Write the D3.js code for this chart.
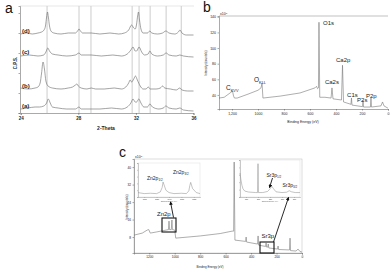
<!DOCTYPE html>
<html><head><meta charset="utf-8">
<script src="https://cdn.jsdelivr.net/npm/d3@7"></script>
<style>
html,body{margin:0;padding:0;background:#fff;}
svg{display:block;font-family:"Liberation Sans", Arial, sans-serif;}
</style></head><body>
<svg id="fig" width="390" height="269"></svg>
<script>
// ---------- Panel a : XRD ----------
const aTicks = [24, 28, 32, 36];
const aRefLines = [25.83, 28.05, 28.88, 31.74, 32.22, 32.99, 34.10, 35.15];
const aLabels = ["(d)", "(c)", "(b)", "(a)"];
const aTraceD = [[24.0,79],[24.4,80],[24.8,79],[25.2,80],[25.45,81],[25.62,83],[25.72,87],[25.8,96],[25.86,101],[25.92,96],[26.0,87],[26.1,82],[26.3,80],[26.8,79],[27.3,80],[27.8,80],[27.95,82],[28.05,84],[28.15,82],[28.3,80],[28.9,80],[29.5,79],[30.2,80],[30.8,79],[31.2,80],[31.5,83],[31.7,88],[31.85,85],[31.95,84],[32.05,89],[32.12,97],[32.18,101],[32.25,93],[32.35,84],[32.5,80],[32.8,80],[32.97,82],[33.1,80],[33.5,79],[33.85,80],[34.08,82],[34.3,80],[34.7,79],[34.95,81],[35.06,83],[35.2,80],[35.5,78],[36.0,78]];
const aTraceC = [[24.0,57],[24.6,58],[25.2,57],[25.6,58],[25.75,61],[25.88,65],[26.0,62],[26.2,59],[26.6,58],[27.2,57],[27.8,58],[28.05,60],[28.2,58],[28.9,58],[29.6,57],[30.4,58],[31.0,57],[31.4,59],[31.65,63],[31.8,66],[31.95,62],[32.05,62],[32.22,66],[32.4,61],[32.6,58],[32.85,59],[32.97,62],[33.1,59],[33.5,57],[33.9,58],[34.1,60],[34.3,58],[34.8,57],[35.05,58],[35.3,57],[36.0,56]];
const aTraceB = [[24.0,25],[24.5,24],[25.0,25],[25.2,26],[25.35,30],[25.45,40],[25.55,51],[25.65,44],[25.75,32],[25.9,27],[26.2,25],[26.8,24],[27.3,25],[27.6,26],[27.8,28],[27.9,29],[28.0,27],[28.2,25],[28.6,24],[28.9,25],[29.2,24],[29.8,24],[30.5,25],[31.0,24],[31.3,26],[31.5,30],[31.6,33],[31.7,31],[31.85,34],[31.97,37],[32.1,33],[32.3,27],[32.5,24],[32.7,24],[32.86,26],[33.0,24],[33.4,24],[33.7,25],[33.85,27],[34.0,25],[34.4,24],[34.8,23],[35.05,25],[35.2,23],[35.6,22],[36.0,22]];
const aTraceA = [[24.0,4],[24.5,5],[25.0,6],[25.3,6],[25.6,7],[25.8,10],[25.92,14],[26.05,10],[26.2,6],[26.6,5],[27.2,4],[27.8,4],[28.05,6],[28.2,4],[28.9,4],[29.5,4],[30.3,5],[31.0,4],[31.4,6],[31.65,10],[31.8,14],[31.95,11],[32.05,11],[32.2,14],[32.35,10],[32.55,6],[32.8,6],[32.97,9],[33.15,6],[33.6,4],[33.9,5],[34.08,7],[34.3,5],[34.8,4],[35.05,5],[35.3,3],[36.0,2]];
const aLabelLevels = [82, 61, 27, 7];

// ---------- Panel b : XPS survey ----------
const bBE = [1300,1260,1215,1196,1188,1181,1160,1077,1000,977,969,962,830,677,562,550,542,535,531,525,485,438,431,423,358,350,342,285,281,277,196,192,188,135,131,127,54,42,31,0];
const bCounts = [36,37,42.5,45,38.5,36,36,41,46,49,55,36,38.5,42.5,49,51,48,49,133,37,37,36,49,35,33.5,78,31,28,36,27,25,33,24.5,24.5,36,24.5,26,31,26,23];
const bXTicks = [1200,1000,800,600,400,200,0];
const bXTickLabels = ["1,200","1000","800","600","400","200","0"];
const bYTicks = [40,60,80,100,120,140];
const bPeakNames = [["O1s",""],["Ca2p",""],["Ca2s",""],["C1s",""],["P2s",""],["P2p",""],["C","KVV"],["O","KLL"]];
const bPeakPos = [[500,129.5],[400,82],[485,54],[315,37.4],[238,31],[169,36],[1246,46],[1031,56.5]];

// ---------- Panel c : XPS survey (doped) ----------
const cBE = [1318,1255,1216,1204,1192,1145,1067,1049,1045,1041,1027,1022,1018,1000,992,800,643,549,537,533,527,443,439,435,349,345,341,286,282,278,269,265,261,192,188,184,98,94,90,47,31,16,0];
const cCounts = [8.9,9.8,11.2,11.4,9.8,10.3,11.2,11.4,15.3,11.4,11.4,15.8,11.4,11.2,7.5,8.5,9.6,10.7,10.7,42.3,6.6,6.0,8.0,5.7,4.8,8.5,4.3,3.7,5.3,3.4,3.4,4.8,3.0,2.5,3.9,2.3,2.1,7.5,1.8,1.6,2.5,1.4,1.1];
const cXTicks = [1200,1000,800,600,400,200,0];
const cYTicks = [8,16,24,32,40];
// Zn2p inset
const znBE = [1065,1060,1055,1050,1047,1045.5,1044.8,1044,1042.5,1040,1036,1030,1026,1024,1023.2,1022.5,1021,1018,1015];
const znI = [1.3,1.0,1.1,1.0,1.5,2.8,4.4,3.6,2.0,1.3,1.0,1.1,1.0,1.8,3.4,4.3,2.5,1.3,1.0];
const znTicks = [1060,1050,1040,1030,1020];
// Sr3p inset
const srBE = [305,304.2,303.4,302.5,301,298,292,290.4,290,289.6,286,282,280,278.5,277,275,270,266,264,262,259,255];
const srI = [6.5,4.6,3.2,2.2,1.6,1.35,1.2,1.2,9.0,1.2,1.2,1.5,2.2,2.9,2.2,1.4,1.2,1.3,1.7,1.4,1.2,1.2];
const srTicks = [300,290,280,270,260];

const svg = d3.select("#fig");
const TXT = "#222", AX = "#555", LINE = "#777";

function subText(g, x, y, main, sub, fs, anchor) {
  const t = g.append("text").attr("x", x).attr("y", y).attr("font-size", fs)
    .attr("fill", TXT).attr("text-anchor", anchor || "start");
  t.append("tspan").text(main);
  if (sub) t.append("tspan").attr("font-size", fs * 0.6).attr("dy", fs * 0.28).text(sub);
  return t;
}
function styleAxis(g, fs, bold) {
  g.selectAll("path,line").attr("stroke", AX).attr("stroke-width", 0.5);
  g.selectAll("text").attr("font-size", fs).attr("fill", TXT)
    .attr("font-weight", bold ? "bold" : "normal").attr("font-family", "Liberation Sans, Arial, sans-serif");
}
function arrow(g, x1, y1, x2, y2) {
  g.append("line").attr("x1", x1).attr("y1", y1).attr("x2", x2).attr("y2", y2)
    .attr("stroke", "#111").attr("stroke-width", 0.9).attr("marker-end", "url(#ah)");
}
svg.append("defs").append("marker").attr("id", "ah").attr("viewBox", "0 0 10 10")
  .attr("refX", 8).attr("refY", 5).attr("markerWidth", 4).attr("markerHeight", 4)
  .attr("orient", "auto").append("path").attr("d", "M0,0L10,5L0,10z").attr("fill", "#111");

// ================= Panel a =================
{
  const g = svg.append("g");
  const x = d3.scaleLinear().domain([24, 36]).range([20.7, 193.5]);
  const y = d3.scaleLinear().domain([0, 107]).range([113, 6]);
  g.append("text").attr("x", 5).attr("y", 13).attr("font-size", 14).attr("fill", "#111").text("a");
  g.selectAll(".ref").data(aRefLines).join("line")
    .attr("x1", d => x(d)).attr("x2", d => x(d)).attr("y1", y(107)).attr("y2", y(0))
    .attr("stroke", "#aaa").attr("stroke-width", 0.6);
  g.append("line").attr("x1", 20).attr("x2", 194).attr("y1", y(107)).attr("y2", y(107))
    .attr("stroke", "#ccc").attr("stroke-width", 0.5);
  const line = d3.line().x(d => x(d[0])).y(d => y(d[1])).curve(d3.curveMonotoneX);
  [aTraceD, aTraceC, aTraceB, aTraceA].forEach(tr => {
    g.append("path").attr("d", line(tr)).attr("fill", "none").attr("stroke", "#666").attr("stroke-width", 0.6);
  });
  const xa = g.append("g").attr("transform", `translate(0,${y(0)})`)
    .call(d3.axisBottom(x).tickValues(aTicks).tickSize(2).tickPadding(2).tickFormat(d3.format("d")));
  styleAxis(xa, 4.5, true);
  const ya = g.append("g").attr("transform", `translate(20,0)`)
    .call(d3.axisLeft(y).ticks(6).tickSize(1.5).tickFormat(""));
  styleAxis(ya, 4, true);
  aLabels.forEach((l, i) => {
    g.append("text").attr("x", 22).attr("y", y(aLabelLevels[i]) + 2).attr("font-size", 6)
      .attr("font-weight", "bold").attr("fill", TXT).text(l);
  });
  g.append("text").attr("x", 106).attr("y", 129.5).attr("font-size", 5).attr("font-weight", "bold")
    .attr("text-anchor", "middle").attr("fill", TXT).text("2-Theta");
  g.append("text").attr("transform", "translate(17,63) rotate(-90)").attr("font-size", 4.5)
    .attr("font-weight", "bold").attr("text-anchor", "middle").attr("fill", TXT).text("C.P.S.");
}

// ================= Panel b =================
{
  const g = svg.append("g");
  const x = d3.scaleLinear().domain([1300, 0]).range([219, 388]);
  const y = d3.scaleLinear().domain([22, 141]).range([109, 16]);
  g.append("text").attr("x", 203).attr("y", 12).attr("font-size", 14).attr("fill", "#111").text("b");
  g.append("line").attr("x1", 219).attr("x2", 388).attr("y1", 16).attr("y2", 16)
    .attr("stroke", "#999").attr("stroke-width", 0.6);
  const line = d3.line().x((d, i) => x(bBE[i])).y((d, i) => y(bCounts[i]));
  g.append("path").attr("d", line(bBE)).attr("fill", "none").attr("stroke", LINE).attr("stroke-width", 0.6);
  const xa = g.append("g").attr("transform", `translate(0,109)`)
    .call(d3.axisBottom(x).tickValues(bXTicks).tickSize(1.5).tickPadding(2)
      .tickFormat((d, i) => bXTickLabels[i]));
  styleAxis(xa, 3.5, false);
  const ya = g.append("g").attr("transform", `translate(219,0)`)
    .call(d3.axisLeft(y).tickValues(bYTicks).tickSize(1.5).tickPadding(1.5).tickFormat(d3.format("d")));
  styleAxis(ya, 3.5, false);
  subText(g, 220, 15, "x10", "", 3.5).append("tspan").attr("font-size", 2.5).attr("dy", -1.5).text("3");
  g.append("text").attr("x", 303).attr("y", 123).attr("font-size", 3.5).attr("text-anchor", "middle")
    .attr("fill", TXT).text("Binding Energy (eV)");
  g.append("text").attr("transform", "translate(207,63) rotate(-90)").attr("font-size", 3)
    .attr("text-anchor", "middle").attr("fill", TXT).text("Intensity (counts/s)");
  bPeakNames.forEach((n, i) => {
    const p = bPeakPos[i];
    if (n[1]) subText(g, x(p[0]), y(p[1]), n[0], n[1], 6.5);
    else subText(g, x(p[0]), y(p[1]), n[0], "", 6);
  });
}

// ================= Panel c =================
{
  const g = svg.append("g");
  const x = d3.scaleLinear().domain([1320, 0]).range([134, 302]);
  const y = d3.scaleLinear().domain([0.7, 43.7]).range([253, 159]);
  g.append("text").attr("x", 119).attr("y", 157).attr("font-size", 14).attr("fill", "#111").text("c");
  g.append("rect").attr("x", 134).attr("y", 159).attr("width", 168).attr("height", 94)
    .attr("fill", "none").attr("stroke", "#bbb").attr("stroke-width", 0.5);
  const line = d3.line().x((d, i) => x(cBE[i])).y((d, i) => y(cCounts[i]));
  g.append("path").attr("d", line(cBE)).attr("fill", "none").attr("stroke", LINE).attr("stroke-width", 0.6);
  const xa = g.append("g").attr("transform", `translate(0,253)`)
    .call(d3.axisBottom(x).tickValues(cXTicks).tickSize(1.5).tickPadding(1.5).tickFormat(d3.format("d")));
  styleAxis(xa, 3.2, false);
  const ya = g.append("g").attr("transform", `translate(134,0)`)
    .call(d3.axisLeft(y).tickValues(cYTicks).tickSize(1.5).tickPadding(1.5).tickFormat(d3.format("d")));
  styleAxis(ya, 3.2, false);
  subText(g, 135, 158, "x10", "", 3.5).append("tspan").attr("font-size", 2.5).attr("dy", -1.5).text("3");
  g.append("text").attr("x", 210).attr("y", 268).attr("font-size", 3).attr("text-anchor", "middle")
    .attr("fill", TXT).text("Binding Energy (eV)");
  g.append("text").attr("transform", "translate(128,207) rotate(-90)").attr("font-size", 3)
    .attr("text-anchor", "middle").attr("fill", TXT).text("Intensity (counts/s)");

  // Zn2p inset
  const zx = d3.scaleLinear().domain([1065, 1015]).range([138, 200]);
  const zy = d3.scaleLinear().domain([0, 10]).range([197, 163]);
  g.append("rect").attr("x", 138).attr("y", 163).attr("width", 62).attr("height", 34)
    .attr("fill", "#fff").attr("stroke", "#ddd").attr("stroke-width", 0.5);
  g.append("path").attr("d", d3.line().x((d, i) => zx(znBE[i])).y((d, i) => zy(znI[i]))(znBE))
    .attr("fill", "none").attr("stroke", "#888").attr("stroke-width", 0.5);
  const zxa = g.append("g").attr("transform", "translate(0,197)")
    .call(d3.axisBottom(zx).tickValues(znTicks).tickSize(1).tickPadding(0.8).tickFormat(d3.format("d")));
  styleAxis(zxa, 1.8, false); zxa.selectAll("path,line").attr("stroke", "#999");
  const zya = g.append("g").attr("transform", "translate(138,0)")
    .call(d3.axisLeft(zy).ticks(4).tickSize(1).tickFormat(""));
  styleAxis(zya, 1.8, false); zya.selectAll("path,line").attr("stroke", "#999");
  g.append("text").attr("x", 169).attr("y", 201.5).attr("font-size", 1.8).attr("fill", "#555")
    .attr("text-anchor", "middle").text("Binding Energy (eV)");
  subText(g, 147, 180, "Zn2p", "1/2", 5);
  subText(g, 173, 174, "Zn2p", "3/2", 5);

  // Sr3p inset
  const sx = d3.scaleLinear().domain([305, 255]).range([240, 300]);
  const sy = d3.scaleLinear().domain([0, 10]).range([197, 160]);
  g.append("rect").attr("x", 240).attr("y", 160).attr("width", 60).attr("height", 37)
    .attr("fill", "#fff").attr("stroke", "#ddd").attr("stroke-width", 0.5);
  g.append("path").attr("d", d3.line().x((d, i) => sx(srBE[i])).y((d, i) => sy(srI[i]))(srBE))
    .attr("fill", "none").attr("stroke", "#888").attr("stroke-width", 0.5);
  const sxa = g.append("g").attr("transform", "translate(0,197)")
    .call(d3.axisBottom(sx).tickValues(srTicks).tickSize(1).tickPadding(0.8).tickFormat(d3.format("d")));
  styleAxis(sxa, 1.8, false); sxa.selectAll("path,line").attr("stroke", "#999");
  const sya = g.append("g").attr("transform", "translate(240,0)")
    .call(d3.axisLeft(sy).ticks(4).tickSize(1).tickFormat(""));
  styleAxis(sya, 1.8, false); sya.selectAll("path,line").attr("stroke", "#999");
  g.append("text").attr("x", 270).attr("y", 201.5).attr("font-size", 1.8).attr("fill", "#555")
    .attr("text-anchor", "middle").text("Binding Energy (eV)");
  subText(g, 266.5, 176.5, "Sr3p", "1/2", 5);
  subText(g, 282.5, 187, "Sr3p", "3/2", 5);

  // boxes, labels and arrows
  g.append("rect").attr("x", 162).attr("y", 218).attr("width", 14).attr("height", 14)
    .attr("fill", "none").attr("stroke", "#111").attr("stroke-width", 1.1);
  g.append("rect").attr("x", 260).attr("y", 242).attr("width", 14).attr("height", 11)
    .attr("fill", "none").attr("stroke", "#111").attr("stroke-width", 1.1);
  g.append("text").attr("x", 157).attr("y", 215.5).attr("font-size", 6).attr("fill", TXT).text("Zn2p");
  g.append("text").attr("x", 261.5).attr("y", 237.5).attr("font-size", 6).attr("fill", TXT).text("Sr3p");
  arrow(g, 173.5, 217.5, 170.5, 202);
  arrow(g, 273.5, 242, 288.5, 197.5);
  arrow(g, 272.5, 178, 269.5, 187.5);
}
</script></body></html>
